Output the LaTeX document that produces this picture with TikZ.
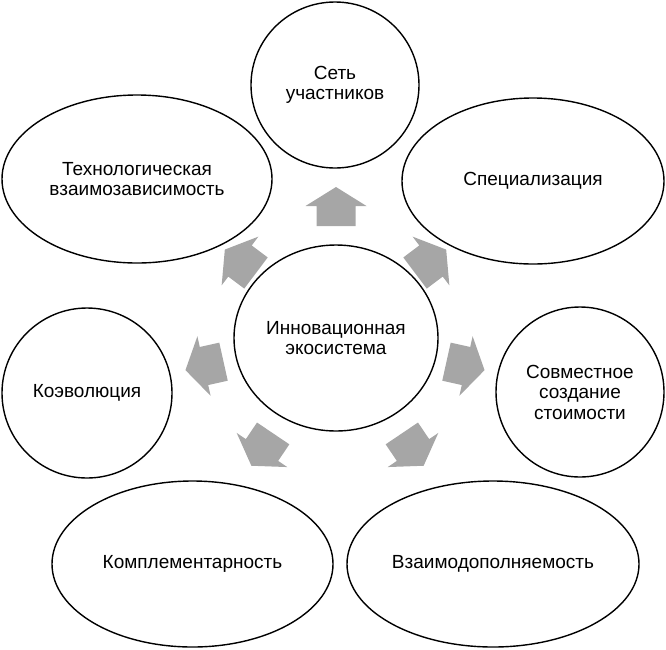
\documentclass[tikz,border=0pt]{standalone}
\usepackage{fontspec}
\setmainfont{Liberation Sans}
\usetikzlibrary{shapes.geometric}
\definecolor{arrowgray}{RGB}{166,166,166}
\tikzset{
  outer/.style={draw=black, line width=1.4pt, ellipse, inner sep=0pt, align=center,
    font=\fontsize{19}{20.5}\selectfont},
  blockarr/.pic={\fill[arrowgray] (-20,-19.5) -- (0,-19.5) -- (0,-30.5) -- (19,0) -- (0,30.5) -- (0,19.5) -- (-20,19.5) -- cycle;}
}
\begin{document}
\begin{tikzpicture}[x=1pt,y=-1pt]
\useasboundingbox (0,0) rectangle (666,649);
% block arrows
\pic[rotate=90]   at (336,206) {blockarr};
\pic[rotate=37]   at (431,261) {blockarr};
\pic[rotate=-12.5] at (466,366) {blockarr};
\pic[rotate=-56]  at (413,450) {blockarr};
\pic[rotate=-124] at (262,450) {blockarr};
\pic[rotate=192.5] at (204,366) {blockarr};
\pic[rotate=143]  at (240,261) {blockarr};
% nodes
\node[outer, minimum width=204pt, minimum height=186pt] (center) at (336,338) {Инновационная\\экосистема};
\node[outer, minimum width=168pt, minimum height=166pt] (net) at (335,85) {Сеть\\участников};
\node[outer, minimum width=262pt, minimum height=166pt] (spec) at (533,181) {Специализация};
\node[outer, minimum width=270pt, minimum height=168pt] (tech) at (137,179) {Технологическая\\взаимозависимость};
\node[outer, minimum width=170pt, minimum height=170pt] (coev) at (87,393) {Коэволюция};
\node[outer, minimum width=168pt, minimum height=170pt] (cocr) at (580,392) {Совместное\\создание\\стоимости};
\node[outer, minimum width=281pt, minimum height=166pt] (compl) at (192.5,564) {Комплементарность};
\node[outer, minimum width=292pt, minimum height=166pt] (mutual) at (493,564) {Взаимодополняемость};
\end{tikzpicture}
\end{document}
